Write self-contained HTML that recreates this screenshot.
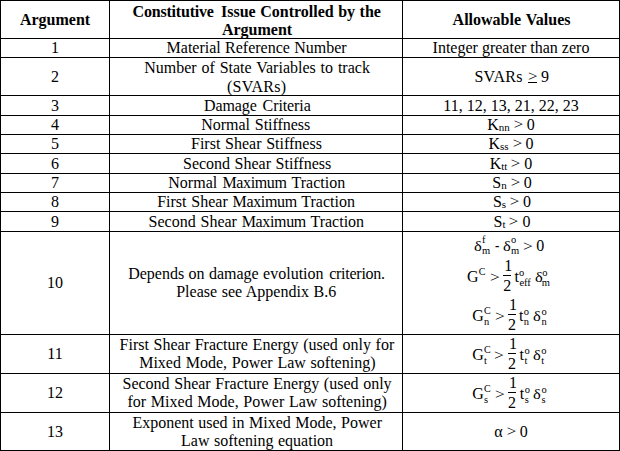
<!DOCTYPE html>
<html><head><meta charset="utf-8"><title>Table</title>
<style>
html,body{margin:0;padding:0;background:#fff}
#p{position:relative;width:620px;height:451px;background:#fff;overflow:hidden;font-family:"Liberation Serif",serif;font-size:16px;color:#000}
.l{position:absolute;background:#000}
.t{position:absolute;height:20px;line-height:20px;white-space:nowrap;text-align:center}
.b{font-weight:bold}
.g{position:absolute;height:20px;line-height:20px;white-space:nowrap}
sub{font-size:11px;vertical-align:baseline;position:relative;top:1px;line-height:0}
.gt{display:inline-block;transform:scale(1.06,0.85);transform-origin:50% 42%}
sup{font-size:10px;vertical-align:baseline;position:relative;top:-6px;line-height:0}
</style></head><body><div id="p">
<div class="l" style="left:0px;top:0px;width:620px;height:1px"></div>
<div class="l" style="left:0px;top:38px;width:620px;height:1px"></div>
<div class="l" style="left:0px;top:57px;width:620px;height:1px"></div>
<div class="l" style="left:0px;top:95px;width:620px;height:1px"></div>
<div class="l" style="left:0px;top:115px;width:620px;height:1px"></div>
<div class="l" style="left:0px;top:134px;width:620px;height:1px"></div>
<div class="l" style="left:0px;top:153px;width:620px;height:1px"></div>
<div class="l" style="left:0px;top:173px;width:620px;height:1px"></div>
<div class="l" style="left:0px;top:192px;width:620px;height:1px"></div>
<div class="l" style="left:0px;top:211px;width:620px;height:1px"></div>
<div class="l" style="left:0px;top:231px;width:620px;height:1px"></div>
<div class="l" style="left:0px;top:334px;width:620px;height:1px"></div>
<div class="l" style="left:0px;top:373px;width:620px;height:1px"></div>
<div class="l" style="left:0px;top:412px;width:620px;height:1px"></div>
<div class="l" style="left:0px;top:450px;width:620px;height:1px"></div>
<div class="l" style="left:0px;top:0px;width:1px;height:451px"></div>
<div class="l" style="left:109px;top:0px;width:1px;height:451px"></div>
<div class="l" style="left:402px;top:0px;width:1px;height:451px"></div>
<div class="l" style="left:619px;top:0px;width:1px;height:451px"></div>
<div class="t b" style="left:1px;width:108px;top:10px;">Argument</div>
<div class="t b" style="left:132.6px;top:2px;text-align:left;letter-spacing:-0.2px;">Constitutive</div>
<div class="t b" style="left:221px;top:2px;text-align:left;word-spacing:0.5px;">Issue Controlled by the</div>
<div class="t b" style="left:111px;width:292px;top:20px;">Argument</div>
<div class="t b" style="left:452.6px;top:10px;text-align:left;word-spacing:1px;">Allowable Values</div>
<div class="t" style="left:1px;width:108px;top:38px;">1</div>
<div class="t" style="left:166.6px;top:38px;text-align:left;word-spacing:0.25px;">Material Reference Number</div>
<div class="t" style="left:403px;width:216px;top:38px;">Integer greater than zero</div>
<div class="t" style="left:1px;width:108px;top:67px;">2</div>
<div class="t" style="left:144.2px;top:58px;text-align:left;word-spacing:0.86px;">Number of State Variables to track</div>
<div class="t" style="left:227px;top:77px;text-align:left;letter-spacing:0.27px;">(SVARs)</div>
<div class="t" style="left:1px;width:108px;top:96px;">3</div>
<div class="t" style="left:204px;top:96px;text-align:left;word-spacing:2px;letter-spacing:-0.1px;">Damage Criteria</div>
<div class="t" style="left:403px;width:216px;top:96px;">11, 12, 13, 21, 22, 23</div>
<div class="t" style="left:1px;width:108px;top:115px;">4</div>
<div class="t" style="left:201.3px;top:115px;text-align:left;word-spacing:1px;letter-spacing:-0.05px;">Normal Stiffness</div>
<div class="t" style="left:403px;width:216px;top:115px;">K<sub>nn</sub> <span class="gt">&gt;</span> 0</div>
<div class="t" style="left:1px;width:108px;top:134px;">5</div>
<div class="t" style="left:191px;top:134px;text-align:left;word-spacing:0.7px;">First Shear Stiffness</div>
<div class="t" style="left:403px;width:216px;top:134px;">K<sub>ss</sub> <span class="gt">&gt;</span> 0</div>
<div class="t" style="left:1px;width:108px;top:154px;">6</div>
<div class="t" style="left:183px;top:154px;text-align:left;word-spacing:0.5px;">Second Shear Stiffness</div>
<div class="t" style="left:403px;width:216px;top:154px;">K<sub>tt</sub> <span class="gt">&gt;</span> 0</div>
<div class="t" style="left:1px;width:108px;top:173px;">7</div>
<div class="t" style="left:168.3px;top:173px;text-align:left;word-spacing:1.2px;">Normal <span style="letter-spacing:-0.35px">Maximum</span> Traction</div>
<div class="t" style="left:404px;width:216px;top:173px;">S<sub>n</sub> <span class="gt">&gt;</span> 0</div>
<div class="t" style="left:1px;width:108px;top:192px;">8</div>
<div class="t" style="left:157.2px;top:192px;text-align:left;word-spacing:0.8px;">First Shear <span style="letter-spacing:-0.35px">Maximum</span> Traction</div>
<div class="t" style="left:404px;width:216px;top:192px;">S<sub>s</sub> <span class="gt">&gt;</span> 0</div>
<div class="t" style="left:1px;width:108px;top:212px;">9</div>
<div class="t" style="left:148.6px;top:212px;text-align:left;word-spacing:0.8px;">Second Shear <span style="letter-spacing:-0.35px">Maximum</span> Traction</div>
<div class="t" style="left:404px;width:216px;top:212px;">S<sub>t</sub> <span class="gt">&gt;</span> 0</div>
<div class="t" style="left:1px;width:108px;top:273px;">10</div>
<div class="t" style="left:128.2px;top:264px;text-align:left;word-spacing:0.4px;">Depends on damage evolution <span style="margin-left:1.2px;letter-spacing:-0.25px">criterion.</span></div>
<div class="t" style="left:176.2px;top:282px;text-align:left;word-spacing:0.6px;">Please see Appendix B.6</div>
<div class="t" style="left:1px;width:108px;top:344px;">11</div>
<div class="t" style="left:119.6px;top:335px;text-align:left;word-spacing:0.65px;">First Shear Fracture Energy (used only for</div>
<div class="t" style="left:139.2px;top:353px;text-align:left;word-spacing:0.75px;">Mixed Mode, Power Law softening)</div>
<div class="t" style="left:1px;width:108px;top:383px;">12</div>
<div class="t" style="left:122.5px;top:374px;text-align:left;word-spacing:0.65px;">Second Shear Fracture Energy (used only</div>
<div class="t" style="left:127.5px;top:392px;text-align:left;word-spacing:0.7px;">for Mixed Mode, Power Law softening)</div>
<div class="t" style="left:1px;width:108px;top:422px;">13</div>
<div class="t" style="left:132.4px;top:413px;text-align:left;word-spacing:0.5px;">Exponent used in Mixed Mode, Power</div>
<div class="t" style="left:181px;top:431px;text-align:left;word-spacing:0.5px;">Law softening equation</div>
<div class="t" style="left:403px;width:216px;top:422px;">&#945; <span class="gt">&gt;</span> 0</div>
<span class="g" style="left:474.4px;top:67px;font-size:16px;letter-spacing:0.3px;">SVARs</span>
<span class="g" style="left:527.5px;top:67px;font-size:16px;transform:scale(1.06,0.86);transform-origin:0 48%;">&gt;</span>
<div class="l" style="left:528px;top:82px;width:9px;height:1px"></div>
<span class="g" style="left:541px;top:67px;font-size:16px;">9</span>
<span class="g" style="left:474px;top:236px;font-size:15px;transform:scaleX(1.1);transform-origin:0 50%;">&#948;</span>
<span class="g" style="left:482px;top:230px;font-size:10.5px;">f</span>
<span class="g" style="left:482px;top:241px;font-size:10.5px;">m</span>
<span class="g" style="left:494.9px;top:236px;font-size:16px;transform:scaleX(0.8);transform-origin:0 50%;">-</span>
<span class="g" style="left:503px;top:236px;font-size:15px;transform:scaleX(1.1);transform-origin:0 50%;">&#948;</span>
<span class="g" style="left:511px;top:230px;font-size:10.5px;">o</span>
<span class="g" style="left:511px;top:241px;font-size:10.5px;">m</span>
<span class="g" style="left:523px;top:236px;font-size:16px;transform:scale(1.08,0.88);transform-origin:0 60%;">&gt;</span>
<span class="g" style="left:536.3px;top:236px;font-size:16px;">0</span>
<span class="g" style="left:467px;top:267px;font-size:16px;">G</span>
<span class="g" style="left:478.7px;top:262px;font-size:10px;">C</span>
<span class="g" style="left:489.5px;top:267px;font-size:16px;transform:scale(1.08,0.88);transform-origin:0 60%;">&gt;</span>
<span class="g" style="left:504.2px;top:256px;font-size:16px;">1</span>
<div class="l" style="left:503px;top:275px;width:8px;height:1px"></div>
<span class="g" style="left:503.3px;top:276px;font-size:16px;">2</span>
<span class="g" style="left:514.5px;top:267px;font-size:16px;">t</span>
<span class="g" style="left:519px;top:263px;font-size:10.5px;">o</span>
<span class="g" style="left:519.6px;top:273px;font-size:10.5px;letter-spacing:-0.2px;">eff</span>
<span class="g" style="left:534.5px;top:267px;font-size:15px;transform:scaleX(1.1);transform-origin:0 50%;">&#948;</span>
<span class="g" style="left:542.3px;top:263px;font-size:10.5px;">o</span>
<span class="g" style="left:541.8px;top:273px;font-size:10.5px;">m</span>
<span class="g" style="left:472.3px;top:306px;font-size:16px;">G</span>
<span class="g" style="left:484.0px;top:301px;font-size:10px;">C</span>
<span class="g" style="left:484.0px;top:312px;font-size:10.5px;">n</span>
<span class="g" style="left:494.8px;top:306px;font-size:16px;transform:scale(1.08,0.88);transform-origin:0 60%;">&gt;</span>
<span class="g" style="left:509.0px;top:295px;font-size:16px;">1</span>
<div class="l" style="left:507.8px;top:314px;width:8px;height:1px"></div>
<span class="g" style="left:508.1px;top:315px;font-size:16px;">2</span>
<span class="g" style="left:518.9px;top:306px;font-size:16px;">t</span>
<span class="g" style="left:523.8px;top:302px;font-size:10.5px;">o</span>
<span class="g" style="left:523.8px;top:312px;font-size:10.5px;">n</span>
<span class="g" style="left:533.2px;top:306px;font-size:15px;transform:scaleX(1.1);transform-origin:0 50%;">&#948;</span>
<span class="g" style="left:541.4000000000001px;top:302px;font-size:10.5px;">o</span>
<span class="g" style="left:541.4000000000001px;top:312px;font-size:10.5px;">n</span>
<span class="g" style="left:472.3px;top:345px;font-size:16px;">G</span>
<span class="g" style="left:484.0px;top:340px;font-size:10px;">C</span>
<span class="g" style="left:484.0px;top:351px;font-size:10.5px;">t</span>
<span class="g" style="left:494.3px;top:345px;font-size:16px;transform:scale(1.08,0.88);transform-origin:0 60%;">&gt;</span>
<span class="g" style="left:509.0px;top:334px;font-size:16px;">1</span>
<div class="l" style="left:507.8px;top:353px;width:8px;height:1px"></div>
<span class="g" style="left:508.1px;top:354px;font-size:16px;">2</span>
<span class="g" style="left:519.5px;top:345px;font-size:16px;">t</span>
<span class="g" style="left:524.4px;top:341px;font-size:10.5px;">o</span>
<span class="g" style="left:524.4px;top:351px;font-size:10.5px;">t</span>
<span class="g" style="left:533px;top:345px;font-size:15px;transform:scaleX(1.1);transform-origin:0 50%;">&#948;</span>
<span class="g" style="left:541.2px;top:341px;font-size:10.5px;">o</span>
<span class="g" style="left:541.2px;top:351px;font-size:10.5px;">t</span>
<span class="g" style="left:472.3px;top:384px;font-size:16px;">G</span>
<span class="g" style="left:484.0px;top:379px;font-size:10px;">C</span>
<span class="g" style="left:484.0px;top:390px;font-size:10.5px;">s</span>
<span class="g" style="left:494.8px;top:384px;font-size:16px;transform:scale(1.08,0.88);transform-origin:0 60%;">&gt;</span>
<span class="g" style="left:509.0px;top:373px;font-size:16px;">1</span>
<div class="l" style="left:507.8px;top:392px;width:8px;height:1px"></div>
<span class="g" style="left:508.1px;top:393px;font-size:16px;">2</span>
<span class="g" style="left:519.8px;top:384px;font-size:16px;">t</span>
<span class="g" style="left:524.6999999999999px;top:380px;font-size:10.5px;">o</span>
<span class="g" style="left:524.6999999999999px;top:390px;font-size:10.5px;">s</span>
<span class="g" style="left:533.4px;top:384px;font-size:15px;transform:scaleX(1.1);transform-origin:0 50%;">&#948;</span>
<span class="g" style="left:541.6px;top:380px;font-size:10.5px;">o</span>
<span class="g" style="left:541.6px;top:390px;font-size:10.5px;">s</span>
</div></body></html>
